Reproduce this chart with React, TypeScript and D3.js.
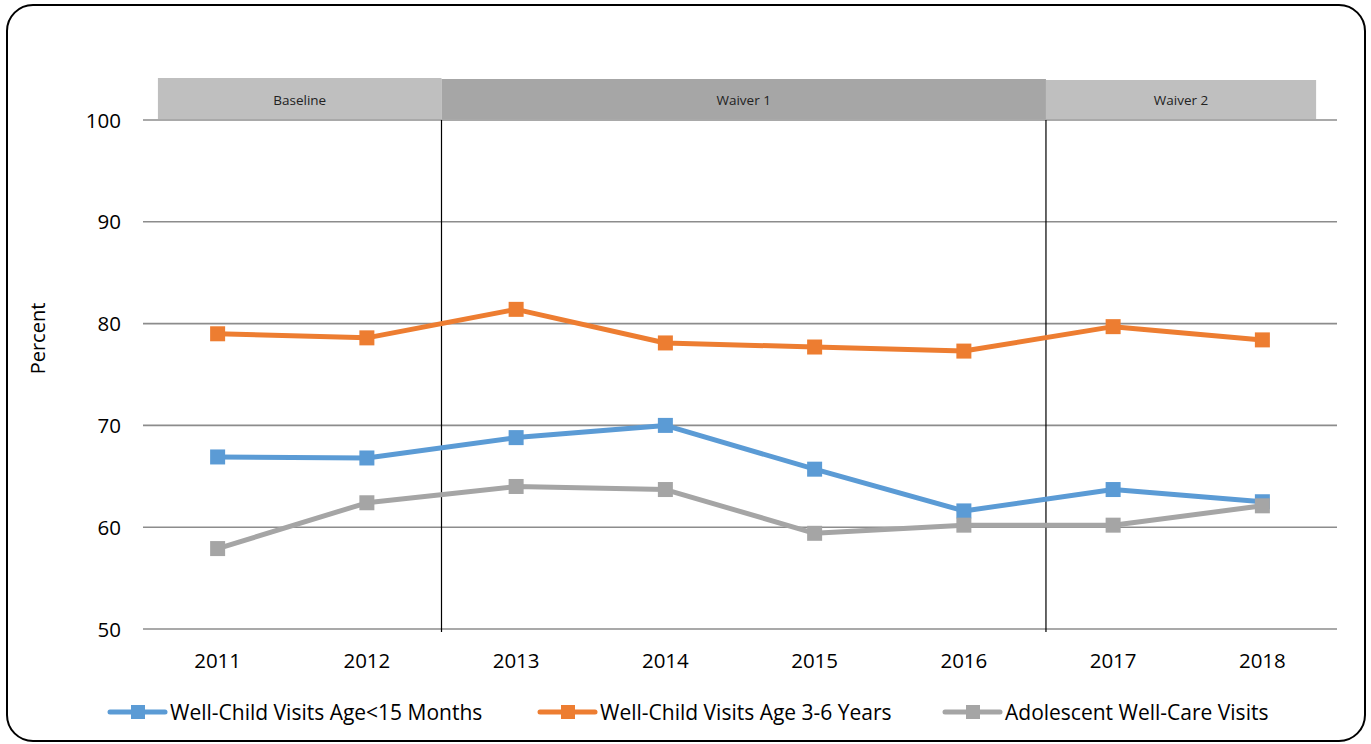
import React from "react";
import * as d3 from "d3";

const years = ["2011", "2012", "2013", "2014", "2015", "2016", "2017", "2018"];
const wellChild15 = [66.9, 66.8, 68.8, 70.0, 65.7, 61.6, 63.7, 62.5];
const wellChild36 = [79.0, 78.6, 81.4, 78.1, 77.7, 77.3, 79.7, 78.4];
const adolescent = [57.9, 62.4, 64.0, 63.7, 59.4, 60.2, 60.2, 62.1];
const yTicks = [50, 60, 70, 80, 90, 100];
const periods = [
  { label: "Baseline", from: 0.1, to: 2 },
  { label: "Waiver 1", from: 2, to: 6.05 },
  { label: "Waiver 2", from: 6.05, to: 7.86 },
];
const periodFill = ["#BFBFBF", "#A6A6A6", "#BFBFBF"];

const series = [
  { name: "Well-Child Visits Age<15 Months", values: wellChild15, color: "#5B9BD5" },
  { name: "Well-Child Visits Age 3-6 Years", values: wellChild36, color: "#ED7D31" },
  { name: "Adolescent Well-Care Visits", values: adolescent, color: "#A5A5A5" },
];

const FONT = "'Open Sans', 'Noto Sans', sans-serif";

export default function App() {
  const W = 1371, H = 744;
  const left = 143, right = 1337, top = 120, bottom = 629;
  const x = d3.scaleBand<string>().domain(years).range([left, right]);
  const xc = (i: number) => (x(years[i]) as number) + x.bandwidth() / 2;
  const xb = (b: number) => left + b * x.bandwidth();
  const y = d3.scaleLinear().domain([50, 100]).range([bottom, top]);
  const line = d3.line<number>().x((_, i) => xc(i)).y((v) => y(v));
  const legendX = [110, 540, 945];

  return (
    <svg width={W} height={H} style={{ position: "absolute", left: 0, top: 0 }}>
      <rect x={0} y={0} width={W} height={H} fill="#fff" />
      <rect x={7} y={5} width={1358} height={736} rx={26} ry={26} fill="none" stroke="#000" strokeWidth={2} />
      {periods.map((p, i) => (
        <g key={p.label}>
          <rect x={xb(p.from)} y={i === 1 ? 79 : i === 0 ? 78 : 80}
            width={xb(p.to) - xb(p.from)} height={i === 0 ? 41 : i === 1 ? 40 : 39} fill={periodFill[i]} />
          <text x={(xb(p.from) + xb(p.to)) / 2} y={105} textAnchor="middle" fontFamily={FONT} fontSize={13.5} fill="#222">
            {p.label}
          </text>
        </g>
      ))}
      {yTicks.map((t) => (
        <g key={t}>
          <line x1={left} x2={right} y1={y(t)} y2={y(t)} stroke="#8C8C8C" strokeWidth={1.6} />
          <text x={121} y={y(t) + 7.5} textAnchor="end" fontFamily={FONT} fontSize={20.5} fill="#000">{t}</text>
        </g>
      ))}
      {[2, 6.05].map((b) => (
        <line key={b} x1={xb(b)} x2={xb(b)} y1={y(100)} y2={632} stroke="#000" strokeWidth={1.2} />
      ))}
      {years.map((yr, i) => (
        <text key={yr} x={xc(i)} y={668} textAnchor="middle" fontFamily={FONT} fontSize={20.5} fill="#000">{yr}</text>
      ))}
      <text transform={`translate(45, ${(top + bottom) / 2 - 36}) rotate(-90)`} textAnchor="middle" fontFamily={FONT} fontSize={20} fill="#000">Percent</text>
      {series.map((s) => (
        <g key={s.name}>
          <path d={line(s.values) as string} fill="none" stroke={s.color} strokeWidth={5} strokeLinejoin="round" />
          {s.values.map((v, i) => (
            <rect key={i} x={xc(i) - 7.5} y={y(v) - 7.5} width={15} height={15} fill={s.color} />
          ))}
        </g>
      ))}
      {series.map((s, k) => (
        <g key={s.name} transform={`translate(${legendX[k]}, 712)`}>
          <line x1={0} x2={55} y1={0} y2={0} stroke={s.color} strokeWidth={5} strokeLinecap="round" />
          <rect x={21} y={-7} width={14} height={14} fill={s.color} />
          <text x={60} y={7.5} fontFamily={FONT} fontSize={21} fill="#000">{s.name}</text>
        </g>
      ))}
    </svg>
  );
}
